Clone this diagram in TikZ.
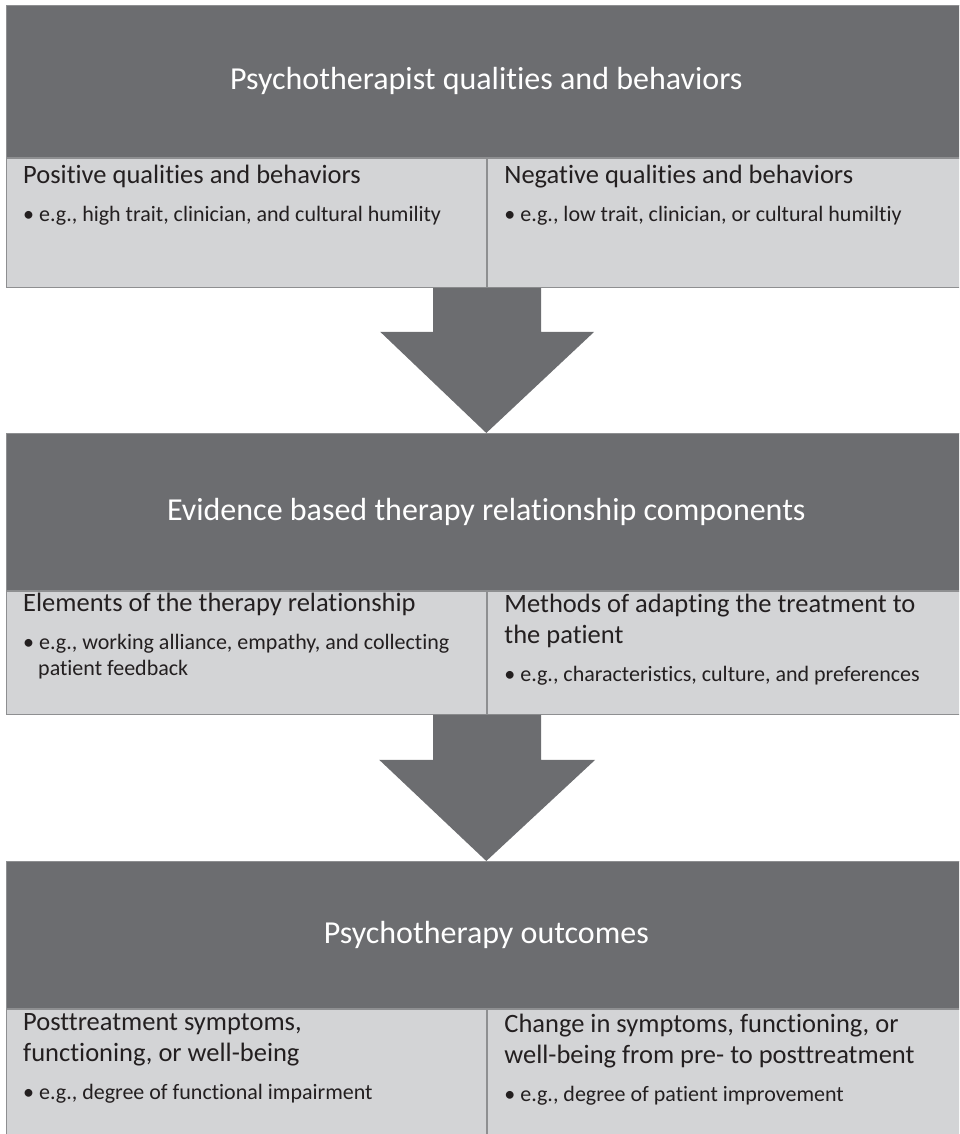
\documentclass[tikz,border=0pt]{standalone}
\usepackage{fontspec}
\setmainfont[Ligatures=NoCommon]{Carlito}
\usetikzlibrary{calc}

\definecolor{titlegray}{HTML}{6C6D70}
\definecolor{cellgray}{HTML}{D3D4D6}
\definecolor{edgegray}{HTML}{8E8F91}
\definecolor{inkgray}{HTML}{231F20}

% one bullet line under a cell heading
\newcommand\examplepoint[1]{\par\vspace{12pt}{\fontsize{22}{26}\selectfont
  \hangindent=15pt\hangafter=1 •\hspace{5pt}#1\par}}

\begin{document}
\begin{tikzpicture}[x=1pt, y=-1pt,
  titlebox/.style={fill=titlegray, draw=edgegray, line width=0.6pt,
    minimum width=960pt, anchor=north west, inner sep=0pt,
    text=white, font=\fontsize{32}{38}\selectfont},
  cellbox/.style={fill=cellgray, draw=edgegray, line width=1.2pt,
    minimum width=480pt, anchor=north west, inner sep=0pt},
  celltext/.style={anchor=north west, align=flush left, text width=455pt,
    inner sep=0pt, text=inkgray, font=\fontsize{26.5}{31}\selectfont},
  blockarrow/.style={fill=titlegray}]

  \clip (0,0) rectangle (959,1134);

  % Psychotherapist qualities and behaviors
  \node[titlebox, minimum height=152pt] (qual) at (6,5)
    {Psychotherapist qualities and behaviors};
  \node[cellbox, minimum height=129pt] (qualpos) at (qual.south west) {};
  \node[cellbox, minimum height=129pt] (qualneg) at (qualpos.north east) {};
  \node[celltext] (qualpostxt) at ([shift={(17,7)}]qualpos.north west)
    {Positive qualities and behaviors
     \examplepoint{e.g., high trait, clinician, and cultural humility}};
  \node[celltext] (qualnegtxt) at ([shift={(17,7)}]qualneg.north west)
    {Negative qualities and behaviors
     \examplepoint{e.g., low trait, clinician, or cultural humiltiy}};

  % Evidence based therapy relationship components
  \node[titlebox, minimum height=157pt] (evid) at (6,433)
    {Evidence based therapy relationship components};
  \node[cellbox, minimum height=123pt] (evidel) at (evid.south west) {};
  \node[cellbox, minimum height=123pt] (evidad) at (evidel.north east) {};
  \node[celltext] (evideltxt) at ([shift={(17,2)}]evidel.north west)
    {Elements of the therapy relationship
     \examplepoint{e.g., working alliance, empathy, and collecting\newline patient feedback}};
  \node[celltext] (evidadtxt) at ([shift={(17,3)}]evidad.north west)
    {Methods of adapting the treatment to\\the patient
     \examplepoint{e.g., characteristics, culture, and preferences}};

  % Psychotherapy outcomes
  \node[titlebox, minimum height=147pt] (outc) at (6,861)
    {Psychotherapy outcomes};
  \node[cellbox, minimum height=140pt] (outcpost) at (outc.south west) {};
  \node[cellbox, minimum height=140pt] (outcchg) at (outcpost.north east) {};
  \node[celltext] (outcposttxt) at ([shift={(17,5)}]outcpost.north west)
    {Posttreatment symptoms,\\functioning, or well-being
     \examplepoint{e.g., degree of functional impairment}};
  \node[celltext] (outcchgtxt) at ([shift={(17,5)}]outcchg.north west)
    {Change in symptoms, functioning, or\\well-being from pre- to posttreatment
     \examplepoint{e.g., degree of patient improvement}};

  % block arrows between the stages
  \fill[blockarrow] ($(qualpos.south east)+(-54,0)$) -- ++(108,0) -- ++(0,44)
    -- ++(53,0) -- (evid.north) -- ($(qualpos.south east)+(-107,44)$)
    -- ++(53,0) -- cycle;
  \fill[blockarrow] ($(evidel.south east)+(-54,0)$) -- ++(108,0) -- ++(0,45)
    -- ++(54,0) -- (outc.north) -- ($(evidel.south east)+(-108,45)$)
    -- ++(54,0) -- cycle;

\end{tikzpicture}
\end{document}
